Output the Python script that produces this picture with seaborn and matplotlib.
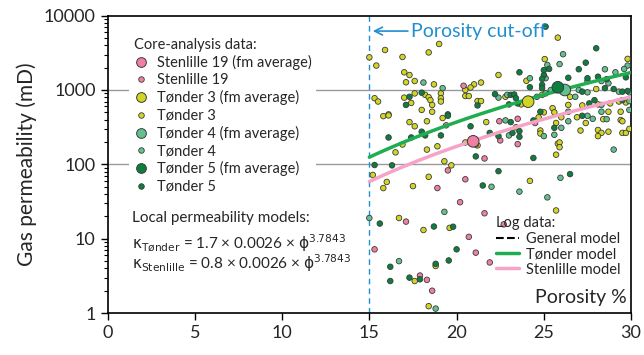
import numpy as np
import pandas as pd
import seaborn as sns
import matplotlib.pyplot as plt
from matplotlib.lines import Line2D

# --- core-analysis data (porosity %, gas permeability mD) ---
sten_phi = [20.4, 19.4, 22.45, 21.6, 20.5, 18.9, 19.5, 20.2, 21.6, 23.5, 24.5, 22.5, 23.5, 21.1,
            17.1, 20.7, 21.1, 21.9, 15.3, 17.9, 18.3, 18.6, 22.7]
sten_k = [1140, 335, 380, 120, 63, 48, 83, 31, 22, 410, 360, 210, 187, 185,
          17, 10.6, 6.5, 4.8, 7.2, 3.2, 2.8, 2.0, 15.6]

t3_phi = [15.0, 15.9, 15.4, 16.9, 18.4, 19.0, 17.0, 17.3, 17.1, 17.6, 18.7, 20.5, 21.0, 21.4, 20.8,
          15.3, 15.5, 17.0, 17.6, 18.2, 18.4, 18.5, 18.6, 19.1, 19.1, 19.1, 20.5, 20.7, 21.2, 21.4,
          17.4, 18.0, 18.6, 16.1, 22.4, 25.8, 25.05, 29.8, 24.0, 28.0, 22.8, 23.7, 24.9, 26.5, 26.4,
          27.2, 28.1, 28.8, 29.3, 29.7, 25.0, 25.5, 25.6, 28.7, 29.4,
          15.8, 16.1, 17.3, 17.6, 18.3, 19.2, 21.7, 16.9, 16.5, 18.3, 18.9, 20.5, 20.9, 21.2,
          15.2, 16.0, 15.8, 19.3, 19.7, 18.4, 17.5,
          23.4, 24.7, 24.8, 24.8, 26.0, 25.7, 25.8, 25.9, 25.9, 25.7, 26.9, 27.4, 27.1, 28.4,
          28.1, 28.3, 28.1, 28.7, 29.4, 29.5, 29.5, 29.7, 29.9, 24.2, 25.7,
          16.7, 18.1, 19.6, 18.8, 17.6, 18.4]
t3_k = [2750, 3450, 2130, 2780, 3200, 4160, 1730, 1590, 1270, 1320, 1190, 1000, 1190, 1260, 1080,
        775, 700, 790, 900, 860, 800, 730, 630, 900, 775, 700, 830, 830, 710, 710,
        670, 540, 510, 470, 1590, 5060, 2600, 2620, 1330, 1030, 810, 640, 860, 810, 630,
        620, 640, 660, 700, 680, 500, 570, 500, 510, 510,
        445, 455, 370, 325, 380, 420, 370, 185, 145, 158, 175, 197, 215, 180,
        72, 58, 48, 110, 97, 68, 51,
        315, 430, 285, 260, 430, 360, 190, 197, 170, 135, 430, 360, 285, 405,
        290, 265, 240, 275, 395, 380, 265, 265, 300, 60, 24,
        19, 13.1, 14, 4.3, 2.7, 1.24]

t4_phi = [18.1, 19.2, 22.4, 26.1, 25.2, 25.9, 29.8, 29.6, 28.5, 29.1, 24.2, 25.1, 27.5, 28.3, 28.7,
          25.4, 27.0, 27.5, 29.3, 29.9, 22.9, 24.6, 25.1, 26.8, 28.3, 29.9, 26.4, 28.3, 29.9,
          22.0, 19.3, 22.8, 23.0, 25.0, 26.0, 25.6, 26.4, 27.5, 27.8, 28.6, 29.0, 25.95, 23.6, 25.2,
          15.0, 16.7, 18.8]
t4_k = [1260, 1060, 790, 3030, 2170, 2230, 2130, 1920, 1900, 1730, 1440, 1440, 1320, 1320, 1230,
        1000, 1000, 930, 950, 930, 860, 810, 900, 810, 630, 710, 510, 510, 540,
        50, 23, 390, 245, 240, 310, 250, 380, 450, 410, 405, 158, 66, 43, 36,
        19, 5.0, 1.15]

t5_phi = [17.3, 18.0, 21.2, 17.1, 22.2, 19.5, 25.1, 28.0, 25.3, 27.4, 27.0, 23.6, 25.0, 24.9, 26.4,
          27.5, 28.1, 28.6, 29.7, 24.2, 24.9, 24.9, 27.2, 28.5, 29.0, 29.5, 29.8, 23.1, 23.3, 23.4,
          23.5, 23.0, 27.6, 27.9, 29.5, 24.8, 25.0,
          19.5, 18.0, 18.2, 17.4, 16.1, 19.1, 20.8, 21.9, 22.4, 21.1, 15.3, 16.3, 21.5, 22.4,
          23.1, 23.6, 23.2, 23.6, 24.4, 25.6, 24.4, 27.2, 26.5,
          15.6, 18.7, 19.8, 20.0, 16.2, 16.2, 17.3, 17.9, 18.8, 19.55]
t5_k = [810, 920, 620, 630, 880, 470, 7100, 3640, 1920, 2330, 1900, 1730, 1590, 1410, 1460,
        1440, 1510, 1400, 1480, 1090, 1170, 1060, 950, 1060, 1030, 950, 970, 860, 870, 775,
        660, 640, 660, 730, 730, 510, 1850,
        450, 275, 245, 230, 230, 245, 325, 265, 240, 128, 98, 97, 52, 81,
        370, 280, 265, 235, 390, 310, 122, 450, 74,
        16, 14.6, 14.5, 7.2, 4.2, 2.7, 3.0, 2.85, 4.6, 5.1]

# formation averages
avg_groups = ["Stenlille 19", "Tønder 3", "Tønder 4", "Tønder 5"]
avg_phi = [20.95, 24.1, 26.2, 25.8]
avg_k = [204, 697, 1000, 1087]

# local permeability models  k = c * 0.0026 * phi^3.7843
model_names = ["Tønder", "Stenlille"]
model_coef = [1.7, 0.8]
model_a = 0.0026
model_exp = 3.7843
cutoff = 15

PINK, YEL, T4C, T5C = "#ef80a3", "#d2d622", "#62c28f", "#0b7f3e"
pal = {"Stenlille 19": PINK, "Tønder 3": YEL, "Tønder 4": T4C, "Tønder 5": T5C}
EDGE = "#3a3a3a"

small = pd.concat([
    pd.DataFrame({"phi": t3_phi, "k": t3_k, "group": "Tønder 3"}),
    pd.DataFrame({"phi": sten_phi, "k": sten_k, "group": "Stenlille 19"}),
    pd.DataFrame({"phi": t4_phi, "k": t4_k, "group": "Tønder 4"}),
    pd.DataFrame({"phi": t5_phi, "k": t5_k, "group": "Tønder 5"}),
], ignore_index=True)
avgs = pd.DataFrame({"phi": avg_phi, "k": avg_k, "group": avg_groups})

sns.set_theme(style="ticks")
plt.rcParams["font.family"] = ["Lato", "DejaVu Sans"]

fig = plt.figure(figsize=(6.44, 3.55), dpi=100)
ax = fig.add_axes([0.167, 0.118, 0.813, 0.838])

ax.axhline(100, color="#9a9a9a", lw=1, zorder=1)
ax.axhline(1000, color="#9a9a9a", lw=1, zorder=1)
ax.axvline(cutoff, color="#1f8fd1", lw=1, ls=(0, (4, 3)), zorder=2)

sns.scatterplot(data=small, x="phi", y="k", hue="group", palette=pal, s=16,
                edgecolor=EDGE, linewidth=0.6, legend=False, ax=ax, zorder=3)

phi_line = np.linspace(cutoff, 30, 80)
line_cols = ["#1fae4f", "#f5a3c6"]
for name, c, col in zip(model_names, model_coef, line_cols):
    sns.lineplot(x=phi_line, y=c * model_a * phi_line ** model_exp, color=col, lw=2.5, ax=ax, zorder=4)

sns.scatterplot(data=avgs, x="phi", y="k", hue="group", palette=pal, s=70,
                edgecolor=EDGE, linewidth=0.7, legend=False, ax=ax, zorder=5)

ax.set_yscale("log")
ax.set_xlim(0, 30)
ax.set_ylim(1, 10000)
ax.set_xticks([0, 5, 10, 15, 20, 25, 30])
ax.set_yticks([1, 10, 100, 1000, 10000])
ax.set_yticklabels(["1", "10", "100", "1000", "10000"])
ax.tick_params(axis="both", which="major", labelsize=13, length=5, width=1, direction="out", color="black")
ax.tick_params(axis="y", which="minor", length=3, width=0.8, color="black")
ax.set_xlabel("")
ax.set_ylabel("Gas permeability (mD)", fontsize=15, labelpad=5)
for sp in ax.spines.values():
    sp.set_visible(True)
    sp.set_color("black")
    sp.set_linewidth(1.2)

# cut-off label
ax.annotate("Porosity cut-off", xy=(15.2, 6200), xytext=(17.4, 6200), color="#1f8fd1",
            fontsize=14, va="center", ha="left",
            arrowprops=dict(arrowstyle="->", color="#1f8fd1", lw=1.2, shrinkA=0, shrinkB=0))

# core-analysis legend
h1 = []
for g in ["Stenlille 19", "Tønder 3", "Tønder 4", "Tønder 5"]:
    h1.append(Line2D([], [], ls="none", marker="o", ms=7, mfc=pal[g], mec=EDGE, mew=0.7,
                     label=g + " (fm average)"))
    h1.append(Line2D([], [], ls="none", marker="o", ms=4, mfc=pal[g], mec=EDGE, mew=0.6, label=g))
leg1 = ax.legend(handles=h1, title="Core-analysis data:", loc="upper left",
                 bbox_to_anchor=(0.028, 0.965), frameon=True, facecolor="white", edgecolor="none",
                 framealpha=1, fontsize=10.5, title_fontsize=10.5, handlelength=1.0,
                 handletextpad=0.6, labelspacing=0.22, borderpad=0.3, alignment="left")
leg1.set_zorder(6)
ax.add_artist(leg1)

# log-data legend
h2 = [Line2D([], [], color="black", ls="--", lw=1.5, label="General model"),
      Line2D([], [], color=line_cols[0], lw=2.5, label="Tønder model"),
      Line2D([], [], color=line_cols[1], lw=2.5, label="Stenlille model")]
leg2 = ax.legend(handles=h2, title="Log data:", loc="upper left", bbox_to_anchor=(0.722, 0.36),
                 frameon=False, fontsize=10.5, title_fontsize=10.5, handlelength=1.6,
                 handletextpad=0.5, labelspacing=0.1, borderpad=0.2, alignment="left")

ax.text(0.047, 0.32, "Local permeability models:", transform=ax.transAxes, fontsize=11, va="center")
ax.text(0.047, 0.236, r"$\mathrm{\kappa}_{\mathrm{Tønder}}$ = 1.7 × 0.0026 × $\mathrm{\phi}^{3.7843}$",
        transform=ax.transAxes, fontsize=11, va="center")
ax.text(0.047, 0.168, r"$\mathrm{\kappa}_{\mathrm{Stenlille}}$ = 0.8 × 0.0026 × $\mathrm{\phi}^{3.7843}$",
        transform=ax.transAxes, fontsize=11, va="center")
ax.text(0.992, 0.054, "Porosity %", transform=ax.transAxes, fontsize=14, ha="right", va="center")

fig.savefig("out.png", dpi=100)
